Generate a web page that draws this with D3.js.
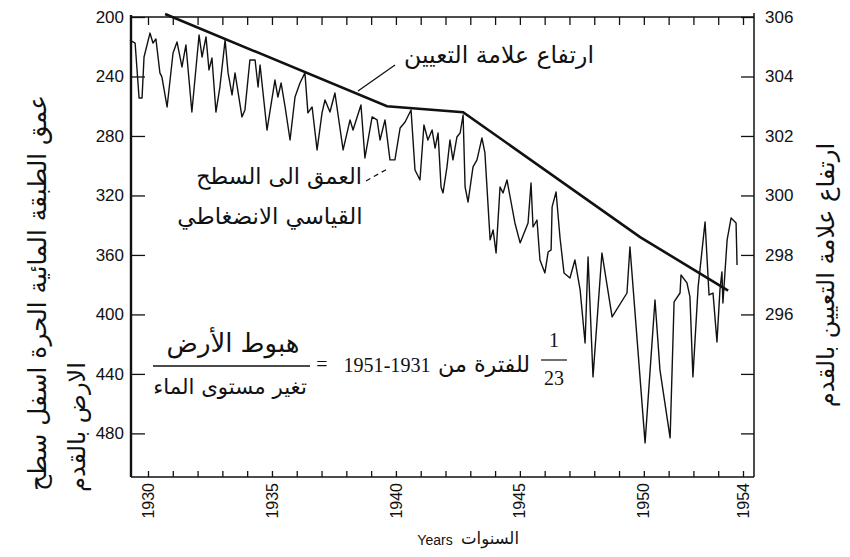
<!DOCTYPE html>
<html>
<head>
<meta charset="utf-8">
<script src="https://cdn.jsdelivr.net/npm/d3@7"></script>
<style>
  body { margin: 0; background: #fff; }
  svg { display: block; }
  text { fill: #111; }
</style>
</head>
<body>
<div id="chart"></div>
<script>
const hydroYears = [
  1929.27, 1929.48, 1929.64, 1929.76, 1929.84, 1930.08, 1930.20, 1930.32, 1930.48, 1930.56,
  1930.77, 1931.01, 1931.17, 1931.37, 1931.53, 1931.77, 1932.06, 1932.18, 1932.34, 1932.46,
  1932.58, 1932.74, 1932.90, 1933.11, 1933.23, 1933.39, 1933.51, 1933.79, 1933.91, 1934.11,
  1934.32, 1934.44, 1934.52, 1934.80, 1935.12, 1935.24, 1935.37, 1935.53, 1935.73, 1935.93,
  1936.13, 1936.33, 1936.45, 1936.62, 1936.82, 1937.02, 1937.14, 1937.34, 1937.54, 1937.87,
  1938.15, 1938.27, 1938.59, 1938.75, 1939.04, 1939.24, 1939.36, 1939.56, 1939.76, 1939.96,
  1940.17, 1940.37, 1940.61, 1940.77, 1940.97, 1941.13, 1941.29, 1941.46, 1941.58, 1941.70,
  1941.82, 1941.90, 1942.06, 1942.18, 1942.30, 1942.46, 1942.59, 1942.71, 1942.79, 1942.91,
  1943.11, 1943.27, 1943.47, 1943.59, 1943.80, 1943.92, 1944.04, 1944.20, 1944.32, 1944.48,
  1944.80, 1945.01, 1945.33, 1945.45, 1945.53, 1945.69, 1945.81, 1946.01, 1946.14, 1946.26,
  1946.30, 1946.46, 1946.62, 1946.78, 1947.02, 1947.22, 1947.43, 1947.63, 1947.75, 1947.95,
  1948.31, 1948.72, 1949.32, 1949.44, 1950.05, 1950.45, 1950.65, 1951.06, 1951.22, 1951.46,
  1951.50, 1951.74, 1951.86, 1951.98, 1952.19, 1952.47, 1952.63, 1952.79, 1952.95, 1953.07,
  1953.15, 1953.19, 1953.36, 1953.52, 1953.72, 1953.76
];
const hydroDepths = [
  215.5, 217.5, 254.5, 254.5, 226.9, 210.8, 217.5, 214.8, 237.6, 240.3,
  260.5, 224.2, 216.8, 233.6, 218.8, 263.9, 212.1, 226.9, 213.4, 235.6,
  227.6, 263.9, 247.1, 215.5, 237.6, 252.4, 237.6, 267.2, 262.5, 228.9,
  228.9, 247.1, 232.3, 276.0, 242.4, 253.8, 244.4, 260.5, 282.7, 253.8,
  244.4, 237.6, 264.5, 260.5, 289.4, 264.5, 255.8, 263.9, 251.1, 289.4,
  269.2, 276.0, 259.2, 294.8, 267.2, 269.2, 282.7, 269.2, 296.1, 296.1,
  274.6, 270.6, 262.5, 302.9, 309.6, 272.6, 282.7, 276.0, 288.1, 278.0,
  314.3, 318.3, 300.8, 282.7, 296.1, 280.7, 278.0, 265.9, 314.3, 324.4,
  300.8, 296.1, 281.3, 291.4, 349.9, 343.2, 358.7, 314.3, 318.3, 309.6,
  338.5, 351.9, 338.5, 311.6, 341.2, 336.5, 363.4, 372.1, 358.0, 356.6,
  327.7, 317.7, 348.6, 372.1, 375.5, 363.4, 383.5, 419.2, 361.4, 442.0,
  358.7, 401.7, 385.6, 354.6, 486.4, 390.3, 437.3, 483.0, 391.6, 385.6,
  373.5, 378.8, 388.2, 442.0, 381.5, 337.8, 386.9, 385.6, 418.5, 383.5,
  371.4, 392.3, 349.9, 335.1, 338.5, 366.7
];

// bench mark elevation (ft)
const benchYears = [1930.69, 1939.64, 1942.71, 1949.85, 1953.40];
const benchElev = [306.1, 303.0, 302.8, 298.6, 296.8];

const depthTicks = [200, 240, 280, 320, 360, 400, 440, 480];
const elevTicks = [306, 304, 302, 300, 298, 296, 294, 292];
const elevLabels = [306, 304, 302, 300, 298, 296];
const yearTicks = d3.range(1930, 1955);
const yearLabels = ["1930", "1935", "1940", "1945", "1950", "1954"];

const W = 850, H = 557;
const frame = { left: 131, right: 754, top: 17, bottom: 477 };
const arabicFont = "'DejaVu Sans', sans-serif";
const numFont = "'Liberation Sans', Arial, sans-serif";

const x = d3.scaleLinear().domain([1930, 1954]).range([148, 743]);
const yDepth = d3.scaleLinear().domain([200, 510]).range([17, 478]);
const yElev = d3.scaleLinear().domain([306, 290.5]).range([17, 478]);

const svg = d3.select("#chart").append("svg")
  .attr("width", W)
  .attr("height", H);

// scale font so the text spans the width
function fitWidth(sel, target) {
  let base = parseFloat(sel.attr("font-size"));
  let len = sel.node().getComputedTextLength();
  if (len > 0) sel.attr("font-size", (base * target / len).toFixed(1));
  return sel;
}

// ---- axes ----
let leftAxis = d3.axisLeft(yDepth).tickValues(depthTicks).tickSize(-14).tickPadding(7);
let gLeft = svg.append("g").attr("transform", `translate(${frame.left},0)`).call(leftAxis);

let rightAxis = d3.axisRight(yElev).tickValues(elevTicks).tickSize(-13).tickPadding(11)
  .tickFormat(d => elevLabels.includes(d) ? d : "");
let gRight = svg.append("g").attr("transform", `translate(${frame.right},0)`).call(rightAxis);

let bottomAxis = d3.axisBottom(x).tickValues(yearTicks).tickSize(-6).tickFormat("");
let gBottom = svg.append("g").attr("transform", `translate(0,${frame.bottom})`).call(bottomAxis);

let topAxis = d3.axisTop(x).tickValues(yearTicks).tickSize(-8).tickFormat("");
let gTop = svg.append("g").attr("transform", `translate(0,${frame.top})`).call(topAxis);

[gLeft, gRight, gBottom, gTop].forEach(g => {
  g.select(".domain").remove();
  g.selectAll(".tick line").attr("stroke", "#111").attr("stroke-width", 1.3);
  g.selectAll(".tick text")
    .attr("font-family", numFont)
    .attr("font-size", 17)
    .attr("fill", "#1a1a1a");
});

// frame
let frameLines = [
  [frame.left, frame.top, frame.right, frame.top],
  [frame.left, frame.bottom, frame.right, frame.bottom],
  [frame.left, frame.top - 2, frame.left, frame.bottom],
  [frame.right, frame.top - 4, frame.right, frame.bottom]
];
svg.append("g").selectAll("line")
  .data(frameLines).enter()
  .append("line")
    .attr("x1", d => d[0]).attr("y1", d => d[1])
    .attr("x2", d => d[2]).attr("y2", d => d[3])
    .attr("stroke", "#111")
    .attr("stroke-width", (d, i) => i === 2 ? 2.4 : 1.5);

// rotated year labels
svg.append("g").selectAll("text")
  .data(yearLabels).enter()
  .append("text")
    .attr("transform", d => `translate(${x(+d)},${frame.bottom + 6}) rotate(-90)`)
    .attr("text-anchor", "end")
    .attr("dy", "0.35em")
    .attr("font-family", numFont)
    .attr("font-size", 16)
    .attr("fill", "#1a1a1a")
    .text(d => d);

// ---- series ----
let hydroData = hydroYears.map((yr, i) => ({ year: yr, depth: hydroDepths[i] }));
let benchData = benchYears.map((yr, i) => ({ year: yr, elev: benchElev[i] }));

svg.append("path")
  .datum(hydroData)
  .attr("fill", "none")
  .attr("stroke", "#111")
  .attr("stroke-width", 1.4)
  .attr("stroke-linejoin", "round")
  .attr("d", d3.line().x(d => x(d.year)).y(d => yDepth(d.depth)));

svg.append("path")
  .datum(benchData)
  .attr("fill", "none")
  .attr("stroke", "#111")
  .attr("stroke-width", 2.6)
  .attr("d", d3.line().x(d => x(d.year)).y(d => yElev(d.elev)));

// ---- titles ----
function rotatedText(cx, cy, str, size, len) {
  let t = svg.append("text")
    .attr("transform", `translate(${cx},${cy}) rotate(-90)`)
    .attr("text-anchor", "middle")
    .attr("dy", "0.35em")
    .attr("font-family", arabicFont)
    .attr("font-size", size)
    .text(str);
  return fitWidth(t, len);
}
rotatedText(37, 293, "عمق الطبقة المائية الحرة اسفل سطح", 22, 396);
rotatedText(77, 427, "الارض بالقدم", 22, 130);
rotatedText(826, 275, "ارتفاع علامة التعيين بالقدم", 22, 265);

function plainText(cx, cy, str, size, len, family) {
  let t = svg.append("text")
    .attr("x", cx).attr("y", cy)
    .attr("text-anchor", "middle")
    .attr("dy", "0.35em")
    .attr("font-family", family || arabicFont)
    .attr("font-size", size)
    .text(str);
  return len ? fitWidth(t, len) : t;
}

// x axis title
plainText(435, 540, "Years", 14, 0, numFont);
plainText(490, 538, "السنوات", 20, 58);

// annotations
plainText(499, 55, "ارتفاع علامة التعيين", 20, 190);
svg.append("line")
  .attr("x1", 395).attr("y1", 65).attr("x2", 358).attr("y2", 91)
  .attr("stroke", "#111").attr("stroke-width", 1.3);

plainText(279, 176, "العمق الى السطح", 20, 166);
plainText(270, 216, "القياسي الانضغاطي", 22, 185);
svg.append("line")
  .attr("x1", 366).attr("y1", 181).attr("x2", 389).attr("y2", 168)
  .attr("stroke", "#111").attr("stroke-width", 1.2)
  .attr("stroke-dasharray", "5,4");

// ratio equation
plainText(233, 343, "هبوط الأرض", 22, 133);
svg.append("line")
  .attr("x1", 153).attr("y1", 366).attr("x2", 310).attr("y2", 366)
  .attr("stroke", "#111").attr("stroke-width", 1.4);
plainText(230, 387, "تغير مستوى الماء", 20, 154);
plainText(322, 364, "=", 20, 0, "'Liberation Serif', serif");
plainText(387, 365, "1951-1931", 19, 87, "'Liberation Serif', serif");
plainText(484, 364, "للفترة من", 20, 92);
plainText(554, 340, "1", 20, 0, "'Liberation Serif', serif");
svg.append("line")
  .attr("x1", 541).attr("y1", 360).attr("x2", 567).attr("y2", 360)
  .attr("stroke", "#111").attr("stroke-width", 1.2);
plainText(554, 378, "23", 20, 0, "'Liberation Serif', serif");
</script>
</body>
</html>
